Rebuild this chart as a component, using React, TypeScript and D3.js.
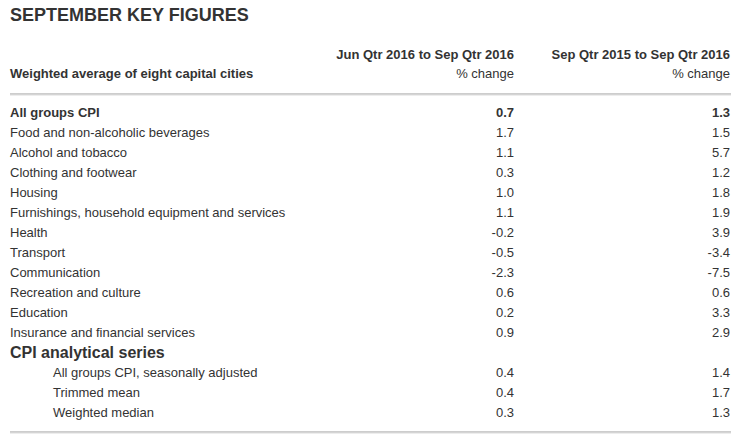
import React from "react";
import * as d3 from "d3";

const title = "SEPTEMBER KEY FIGURES";
const columnHeaders = ["Jun Qtr 2016 to Sep Qtr 2016", "Sep Qtr 2015 to Sep Qtr 2016"];
const unitLabel = "% change";
const rowHeader = "Weighted average of eight capital cities";

const groupCategories = [
  "All groups CPI",
  "Food and non-alcoholic beverages",
  "Alcohol and tobacco",
  "Clothing and footwear",
  "Housing",
  "Furnishings, household equipment and services",
  "Health",
  "Transport",
  "Communication",
  "Recreation and culture",
  "Education",
  "Insurance and financial services",
];
const groupQuarterly = [0.7, 1.7, 1.1, 0.3, 1.0, 1.1, -0.2, -0.5, -2.3, 0.6, 0.2, 0.9];
const groupAnnual = [1.3, 1.5, 5.7, 1.2, 1.8, 1.9, 3.9, -3.4, -7.5, 0.6, 3.3, 2.9];

const analyticalTitle = "CPI analytical series";
const analyticalCategories = ["All groups CPI, seasonally adjusted", "Trimmed mean", "Weighted median"];
const analyticalQuarterly = [0.4, 0.4, 0.3];
const analyticalAnnual = [1.4, 1.7, 1.3];

type Row = { key: string; label: string; q?: number; a?: number; kind: "total" | "group" | "section" | "sub" };

const rows: Row[] = [
  ...groupCategories.map((c, i) => ({ key: "g" + i, label: c, q: groupQuarterly[i], a: groupAnnual[i], kind: (i === 0 ? "total" : "group") as Row["kind"] })),
  { key: "section", label: analyticalTitle, kind: "section" },
  ...analyticalCategories.map((c, i) => ({ key: "a" + i, label: c, q: analyticalQuarterly[i], a: analyticalAnnual[i], kind: "sub" as Row["kind"] })),
];

const fmt = d3.format(".1f");

export default function App() {
  const width = 741;
  const height = 447;
  const left = 10;
  const right = 730;
  const col1 = 514;
  const y = d3.scaleBand<string>().domain(rows.map((r) => r.key)).range([102, 422]);
  const color = "#333333";
  const font = "'Liberation Sans', Arial, sans-serif";
  const fmtVal = (v: number) => fmt(v).replace("−", "-");

  return (
    <svg width={width} height={height} style={{ position: "absolute", left: 0, top: 0, background: "#fff" }} fontFamily={font}>
      <rect x={0} y={0} width={width} height={height} fill="#fff" />
      <text x={left} y={21} fontSize={18} fontWeight="bold" fill={color}>{title}</text>
      <text x={col1} y={59} fontSize={13} fontWeight="bold" fill={color} textAnchor="end">{columnHeaders[0]}</text>
      <text x={right} y={59} fontSize={13} fontWeight="bold" fill={color} textAnchor="end">{columnHeaders[1]}</text>
      <text x={col1} y={78} fontSize={13} fill={color} textAnchor="end">{unitLabel}</text>
      <text x={right} y={78} fontSize={13} fill={color} textAnchor="end">{unitLabel}</text>
      <text x={left} y={78} fontSize={13} fontWeight="bold" fill={color}>{rowHeader}</text>
      <line x1={left} x2={right + 1} y1={94} y2={94} stroke="#9a9a9a" strokeWidth={1} />
      <line x1={left} x2={right + 1} y1={95} y2={95} stroke="#dcdcdc" strokeWidth={1} />
      {rows.map((r) => {
        const base = (y(r.key) ?? 0) + y.bandwidth() / 2 + 4.5;
        const bold = r.kind === "total" || r.kind === "section";
        const size = r.kind === "section" ? 16 : 13;
        const x = r.kind === "sub" ? 53 : left;
        return (
          <g key={r.key}>
            <text x={x} y={r.kind === "section" ? base + 1 : base} fontSize={size} fontWeight={bold ? "bold" : "normal"} fill={color}>{r.label}</text>
            {r.q !== undefined && (
              <text x={col1} y={base} fontSize={13} fontWeight={bold ? "bold" : "normal"} fill={color} textAnchor="end">{fmtVal(r.q)}</text>
            )}
            {r.a !== undefined && (
              <text x={right} y={base} fontSize={13} fontWeight={bold ? "bold" : "normal"} fill={color} textAnchor="end">{fmtVal(r.a)}</text>
            )}
          </g>
        );
      })}
      <line x1={left} x2={right + 1} y1={432} y2={432} stroke="#9a9a9a" strokeWidth={1} />
      <line x1={left} x2={right + 1} y1={433} y2={433} stroke="#dcdcdc" strokeWidth={1} />
    </svg>
  );
}
